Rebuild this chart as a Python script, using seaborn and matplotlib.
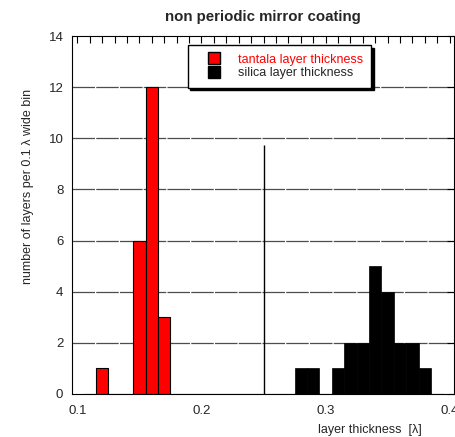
import numpy as np
import pandas as pd
import matplotlib
matplotlib.use("Agg")
import matplotlib.pyplot as plt
from matplotlib.lines import Line2D
from matplotlib.ticker import MultipleLocator
import seaborn as sns

# bin centres (in lambda) and number of layers in each 0.01 wide bin
tantala_centres = [0.12, 0.15, 0.16, 0.17]
tantala_counts = [1, 6, 12, 3]
silica_centres = [0.28, 0.29, 0.31, 0.32, 0.33, 0.34, 0.35, 0.36, 0.37, 0.38]
silica_counts = [1, 1, 1, 2, 2, 5, 4, 2, 2, 1]
quarter_wave = 0.25
quarter_wave_top = 9.75
legend_labels = ["tantala layer thickness", "silica layer thickness"]

sns.set_style("white")
plt.rcParams["font.family"] = ["Liberation Sans", "DejaVu Sans"]

tantala = pd.DataFrame({"thickness": tantala_centres, "n": tantala_counts})
silica = pd.DataFrame({"thickness": silica_centres, "n": silica_counts})
edges = [round(e, 3) for e in np.arange(0.105, 0.4, 0.01)]

fig = plt.figure(figsize=(4.55, 4.37), dpi=100)
ax = fig.add_axes([0.1576, 0.0984, 0.8404, 0.8192])

# horizontal grid first so bars sit on top
for yv in range(2, 14, 2):
    ax.axhline(yv, color="0.3", lw=0.9, ls=(0, (18, 1)), zorder=0)

sns.histplot(data=tantala, x="thickness", weights="n", bins=edges,
             color="red", edgecolor="black", linewidth=0.8, alpha=1, ax=ax)
sns.histplot(data=silica, x="thickness", weights="n", bins=edges,
             color="black", edgecolor="black", linewidth=0.5, alpha=1, ax=ax)

ax.vlines(quarter_wave, 0, quarter_wave_top, color="black", lw=1)

ax.set_xlim(0.0955, 0.4035)
ax.set_ylim(0, 14)
ax.xaxis.set_minor_locator(MultipleLocator(0.01))
ax.yaxis.set_major_locator(MultipleLocator(2))
ax.tick_params(axis="both", which="both", direction="in", top=True, right=True,
               length=5, width=0.8, color="black", labelsize=9.5)
ax.tick_params(axis="x", pad=8)
ax.tick_params(axis="y", pad=6)
ax.set_xticks([0.1, 0.2, 0.3, 0.4])
ax.set_xticklabels(["0.1", "0.2", "0.3", "0.4"])
for s in ax.spines.values():
    s.set_color("black")
    s.set_linewidth(0.8)

ax.set_title("non periodic mirror coating", fontsize=10.8, fontweight="bold", pad=11)
ax.set_xlabel("layer thickness  [\u03bb]", fontsize=9)
ax.set_ylabel("number of layers per 0.1 \u03bb wide bin", fontsize=9)
ax.xaxis.set_label_coords(0.78, -0.084)
ax.yaxis.set_label_coords(-0.098, 0.58)

handles = [
    Line2D([], [], marker="s", ls="", markersize=8, markerfacecolor="red", markeredgecolor="black"),
    Line2D([], [], marker="s", ls="", markersize=8, markerfacecolor="black", markeredgecolor="black"),
]
leg = ax.legend(handles, legend_labels, loc="upper left", bbox_to_anchor=(0.303, 0.975),
                fontsize=9, frameon=True, fancybox=False, borderaxespad=0,
                borderpad=0.7, handlelength=2.9, handletextpad=0.4, labelspacing=0.1,
                shadow={"color": "black", "alpha": 1})
leg.get_frame().set_edgecolor("black")
leg.get_frame().set_linewidth(1)
leg.get_texts()[0].set_color("red")

fig.savefig("out.png", dpi=100)
